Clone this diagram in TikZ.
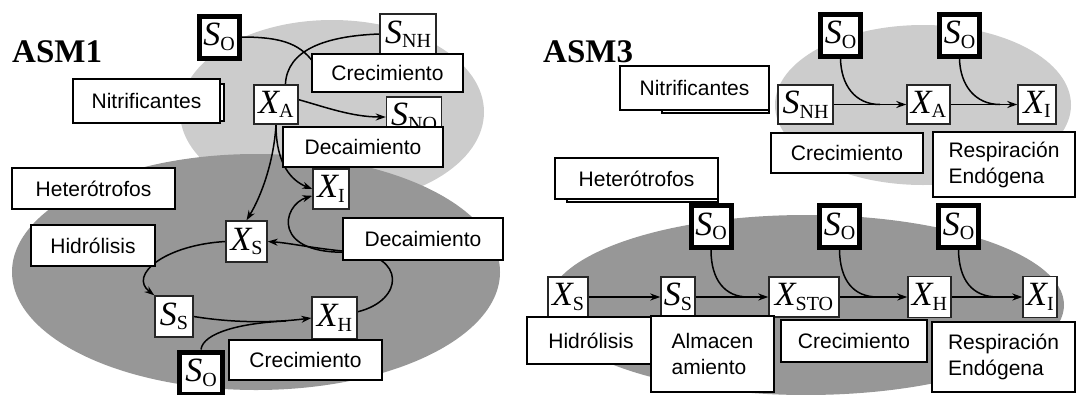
\documentclass[tikz,border=0pt]{standalone}
\usepackage{fontspec}
\setmainfont{Liberation Sans}
\newfontfamily\vserif{Liberation Serif}
\usetikzlibrary{arrows.meta}

% state variable: italic symbol with an upright, lowered index
\newcommand{\vq}[2]{{\vserif\fontsize{34}{34}\selectfont\itshape #1}{\vserif\fontsize{20}{20}\selectfont\raisebox{-4.5pt}{#2}}}

\definecolor{lite}{RGB}{204,204,204}
\definecolor{dark}{RGB}{151,151,151}

\pgfdeclarelayer{bg}
\pgfdeclarelayer{edges}
\pgfsetlayers{bg,edges,main}

\begin{document}
\begin{tikzpicture}[x=1pt,y=-1pt,
  lbl/.style={draw=black, line width=1.2pt, fill=white, inner sep=0pt,
              font=\fontsize{21}{26}\selectfont, align=center},
  backing/.style={draw=black, line width=1.2pt, fill=white},
  var/.style={draw=black!85, line width=1.4pt, fill=white, inner sep=0pt},
  oxy/.style={draw=black, line width=5pt, fill=white, inner sep=0pt,
              minimum width=40pt, minimum height=42pt},
  flow/.style={draw=black, line width=1.5pt},
  arr/.style={flow, -{Stealth[length=10pt,width=7pt]}},
  ttl/.style={font=\vserif\bfseries\fontsize{33}{33}\selectfont,
              anchor=base west, inner sep=0pt}
]
\useasboundingbox (0,0) rectangle (1076,394);

% ---------------- population areas ----------------
\begin{pgfonlayer}{bg}
  \fill[lite] (332,112) ellipse [x radius=152pt, y radius=92pt];
  \fill[dark] (256,272) ellipse [x radius=244pt, y radius=118pt];
  \fill[lite] (923,105) ellipse [x radius=148pt, y radius=80pt];
  \fill[dark] (806,305) ellipse [x radius=258pt, y radius=90pt];
\end{pgfonlayer}

% ---------------- ASM1 ----------------
\node[ttl] (t1) at (12,62) {ASM1};

\node[oxy] (so1) at (219,37) {\vq{S}{O}};
\node[var, minimum width=56pt, minimum height=40pt] (snh1) at (408,34) {\vq{S}{NH}};
\node[var, minimum width=44pt, minimum height=39pt] (xa1) at (276,104.5) {\vq{X}{A}};
\node[var, minimum width=55pt, minimum height=40pt] (sno1) at (414,117) {\vq{S}{NO}};
\node[var, minimum width=36pt, minimum height=40pt] (xi1) at (331,189) {\vq{X}{I}};
\node[var, minimum width=41pt, minimum height=41pt] (xs1) at (246.5,241.5) {\vq{X}{S}};
\node[var, minimum width=38pt, minimum height=41pt] (ss1) at (174,316.5) {\vq{S}{S}};
\node[var, minimum width=45pt, minimum height=42pt] (xh1) at (334.5,318) {\vq{X}{H}};
\node[oxy, minimum width=43pt] (so1b) at (201,373) {\vq{S}{O}};

\coordinate (j1) at (316,66);
\coordinate (dh) at (352,252);
\coordinate (j2) at (286,321);

\begin{pgfonlayer}{edges}
  \draw[flow] (so1.east) .. controls (285,37) and (302,45) .. (j1);
  \draw[flow] (snh1.west) .. controls (325,36) and (287,50) .. (xa1.65);
  \draw[arr] (xa1.12) .. controls (325,107) and (352,117) .. (sno1.west);
  \draw[arr] (xa1.south) .. controls (274,160) and (262,195) .. (xs1.north);
  \draw[arr] (xa1.south) .. controls (276,165) and (292,181) .. (xi1.west);
  \draw[flow] (xh1.15) .. controls (405,300) and (405,255) .. (dh);
  \draw[arr] (dh) .. controls (310,248) and (290,243) .. (xs1.east);
  \draw[arr] (dh) .. controls (270,256) and (282,205) .. (xi1.200);
  \draw[arr] (xs1.west) .. controls (165,245) and (128,275) .. (ss1.north west);
  \draw[arr] (ss1.east) .. controls (240,324) and (280,322) .. (xh1.west);
  \draw[flow] (so1b.north) .. controls (203,333) and (240,323) .. (j2);
\end{pgfonlayer}

\draw[backing] (80,84) rectangle (224,121);
\node[lbl, minimum width=147pt, minimum height=44pt] (lnit1) at (146.5,101) {Nitrificantes};
\node[lbl, minimum width=151pt, minimum height=38pt] (lcrec1) at (387.5,73) {Crecimiento};
\node[lbl, minimum width=160pt, minimum height=40pt] (ldec1) at (363,147) {Decaimiento};
\node[lbl, minimum width=163pt, minimum height=41pt] (lhet1) at (93.5,188.5) {Heterótrofos};
\node[lbl, minimum width=124pt, minimum height=41pt] (lhid1) at (93,245.5) {Hidrólisis};
\node[lbl, minimum width=160pt, minimum height=42pt] (ldec2) at (423,239) {Decaimiento};
\node[lbl, minimum width=153pt, minimum height=40pt] (lcrec2) at (305.5,360) {Crecimiento};

% ---------------- ASM3 ----------------
\node[ttl] (t3) at (543,62) {ASM3};

\node[oxy] (so3a) at (840.5,35) {\vq{S}{O}};
\node[oxy] (so3b) at (959.5,35) {\vq{S}{O}};
\node[var, minimum width=55pt, minimum height=39pt] (snh3) at (805.5,104.5) {\vq{S}{NH}};
\node[var, minimum width=43pt, minimum height=39pt] (xa3) at (928.5,104.5) {\vq{X}{A}};
\node[var, minimum width=38pt, minimum height=39pt] (xi3t) at (1037,104.5) {\vq{X}{I}};

\node[oxy] (so3c) at (711,226.5) {\vq{S}{O}};
\node[oxy] (so3d) at (839.5,226.5) {\vq{S}{O}};
\node[oxy] (so3e) at (958.5,226.5) {\vq{S}{O}};
\node[var, minimum width=40pt, minimum height=40pt] (xs3) at (568,297) {\vq{X}{S}};
\node[var, minimum width=34pt, minimum height=40pt] (ss3) at (678,297) {\vq{S}{S}};
\node[var, minimum width=70pt, minimum height=40pt] (xsto3) at (804,297) {\vq{X}{STO}};
\node[var, minimum width=43pt, minimum height=41pt] (xh3) at (929.5,297) {\vq{X}{H}};
\node[var, minimum width=34pt, minimum height=41pt] (xi3) at (1040,297) {\vq{X}{I}};

\coordinate (j3) at (880,104.5);
\coordinate (j4) at (1000,104.5);
\coordinate (j5) at (748,297);
\coordinate (j6) at (878,297);
\coordinate (j7) at (998,297);

\begin{pgfonlayer}{edges}
  \draw[arr] (snh3.east) -- (xa3.west);
  \draw[flow] (so3a.south) .. controls (841,85) and (855,104.5) .. (j3);
  \draw[arr] (xa3.east) -- (xi3t.west);
  \draw[flow] (so3b.south) .. controls (960,85) and (975,104.5) .. (j4);
  \draw[arr] (xs3.east) -- (ss3.west);
  \draw[arr] (ss3.east) -- (xsto3.west);
  \draw[flow] (so3c.south) .. controls (711,280) and (725,297) .. (j5);
  \draw[arr] (xsto3.east) -- (xh3.west);
  \draw[flow] (so3d.south) .. controls (840,280) and (853,297) .. (j6);
  \draw[arr] (xh3.east) -- (xi3.west);
  \draw[flow] (so3e.south) .. controls (959,280) and (972,297) .. (j7);
\end{pgfonlayer}

\draw[backing] (662,76) rectangle (769,113);
\node[lbl, minimum width=149pt, minimum height=44pt] (lnit3) at (694.5,88) {Nitrificantes};
\node[lbl, minimum width=152pt, minimum height=40pt] (lcrec3) at (847,153) {Crecimiento};
\node[lbl, minimum width=142pt, minimum height=65pt, align=left] (lresp3) at (1004,164.5) {Respiración\\Endógena};
\draw[backing] (567,165) rectangle (718,202);
\node[lbl, minimum width=163pt, minimum height=41pt] (lhet3) at (636.5,178.5) {Heterótrofos};

\node[lbl, minimum width=128pt, minimum height=47pt] (lhid3) at (591,340.5) {Hidrólisis};
\node[lbl, minimum width=123pt, minimum height=76pt, align=left] (lalm3) at (712.5,354) {Almacen\\amiento};
\node[lbl, minimum width=146pt, minimum height=42pt] (lcrec3b) at (854,341) {Crecimiento};
\node[lbl, minimum width=143pt, minimum height=70pt, align=left] (lresp3b) at (1003.5,357) {Respiración\\Endógena};

\end{tikzpicture}
\end{document}
